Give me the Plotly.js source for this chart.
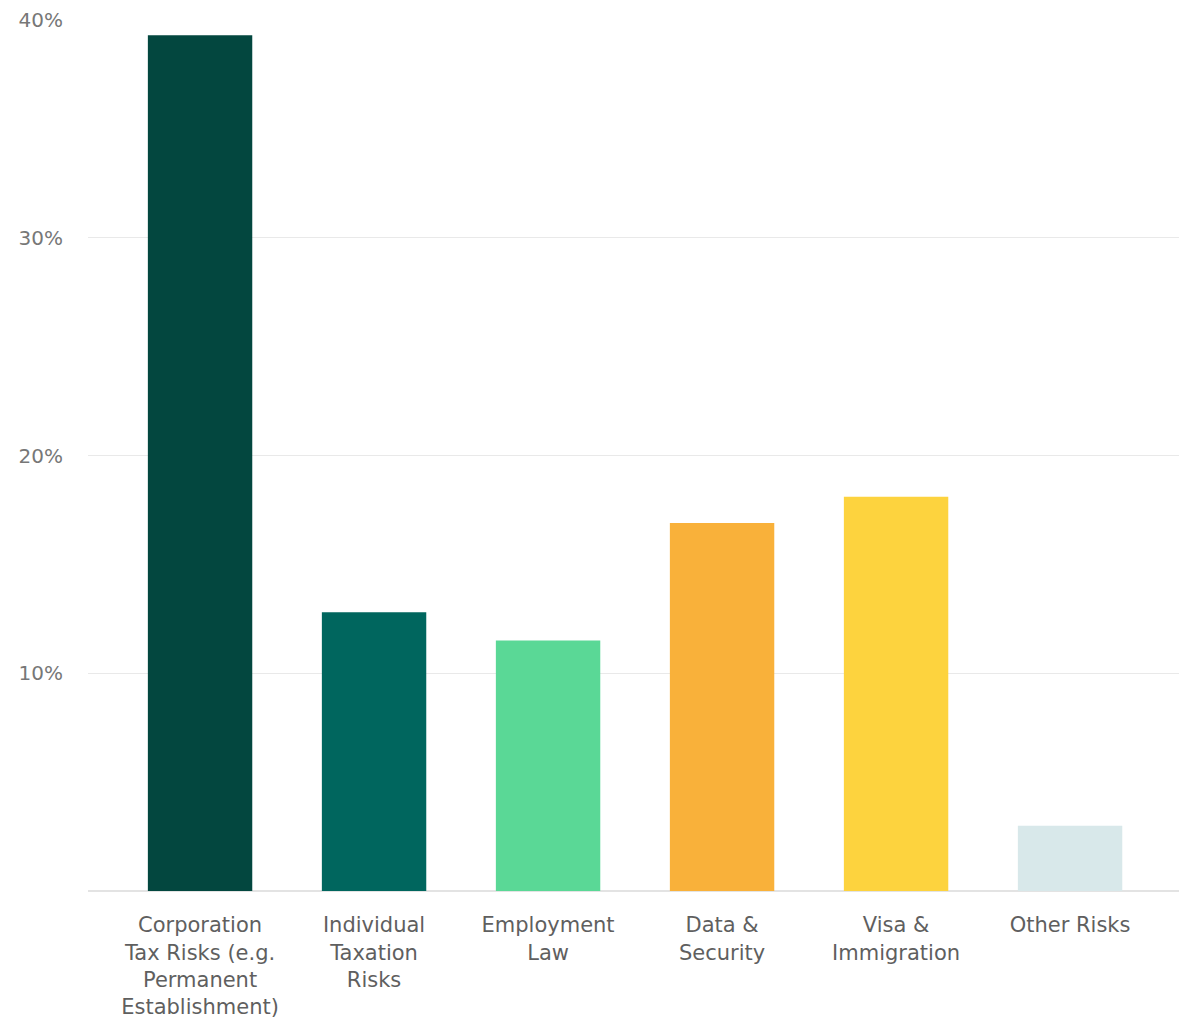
<!DOCTYPE html>
<html>
<head>
<meta charset="utf-8">
<script src="https://cdn.plot.ly/plotly-3.0.1.min.js"></script>
<style>html,body{margin:0;padding:0;background:#fff;}#chart{width:1191px;height:1019px;}</style>
</head>
<body>
<div id="chart"></div>
<script>
const categories = [
  "Corporation<br>Tax Risks (e.g.<br>Permanent<br>Establishment)",
  "Individual<br>Taxation<br>Risks",
  "Employment<br>Law",
  "Data &<br>Security",
  "Visa &<br>Immigration",
  "Other Risks"
];
const values = [39.3, 12.8, 11.5, 16.9, 18.1, 3.0];
const colors = ["#03473F", "#00665E", "#5AD896", "#F9B13A", "#FDD33E", "#D8E8EA"];
const tickVals = [10, 20, 30, 40];
const tickText = ["10%", "20%", "30%", "40%"];

const trace = {
  type: "bar",
  x: categories,
  y: values,
  marker: {color: colors},
  width: 0.6,
  hoverinfo: "skip"
};

const layout = {
  width: 1191,
  height: 1019,
  margin: {l: 88, r: 12, t: 20, b: 128},
  paper_bgcolor: "#ffffff",
  plot_bgcolor: "#ffffff",
  showlegend: false,
  font: {family: "DejaVu Sans, sans-serif", color: "#666666"},
  xaxis: {
    range: [-0.644, 5.626],
    showgrid: false,
    showline: false,
    zeroline: false,
    tickfont: {size: 21, color: "#5f5f5f", family: "DejaVu Sans, sans-serif"},
    ticks: "outside",
    ticklen: 15,
    tickcolor: "rgba(0,0,0,0)",
    fixedrange: true
  },
  yaxis: {
    range: [0, 40],
    tickvals: tickVals,
    ticktext: tickText,
    showgrid: true,
    gridcolor: "#e9e9e9",
    gridwidth: 1,
    zeroline: true,
    zerolinecolor: "#e3e3e3",
    zerolinewidth: 2,
    showline: false,
    ticks: "outside",
    ticklen: 20,
    tickcolor: "rgba(0,0,0,0)",
    tickfont: {size: 20, color: "#777777", family: "DejaVu Sans, sans-serif"},
    fixedrange: true
  }
};

Plotly.newPlot("chart", [trace], layout, {displayModeBar: false, staticPlot: true});
</script>
</body>
</html>
